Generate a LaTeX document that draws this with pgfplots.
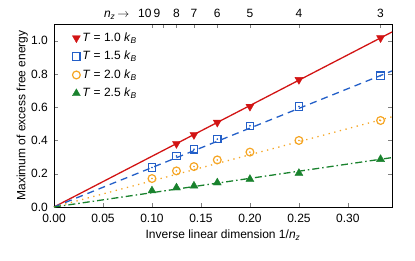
\documentclass[border=0pt]{standalone}
\usepackage{fontspec}
\setmainfont{Liberation Sans}
\usepackage{pgfplots}
\pgfplotsset{compat=1.18}
\definecolor{cred}{RGB}{210,20,20}
\definecolor{cblue}{RGB}{35,95,200}
\definecolor{corange}{RGB}{245,165,35}
\definecolor{cgreen}{RGB}{25,130,45}
\newcommand\kB{\textit{k}\textsubscript{\textit{B}}}
\newcommand\nz{\textit{n}\textsubscript{\textit{z}}}
\begin{document}
\fontsize{12bp}{14bp}\selectfont
\begin{tikzpicture}
\begin{axis}[
  name=main,
  scale only axis, width=338bp, height=183bp,
  xmin=0, xmax=0.345, ymin=0, ymax=1.1,
  xtick={0,0.05,...,0.31}, ytick={0,0.2,...,1.01},
  xtick pos=bottom, ytick pos=both,
  tick align=inside, major tick length=4bp,
  /pgf/number format/assume math mode=true,
  xticklabel style={yshift=-3bp,/pgf/number format/.cd,fixed,fixed zerofill,precision=2},
  yticklabel style={xshift=-2bp,/pgf/number format/.cd,fixed,fixed zerofill,precision=1},
  xlabel={Inverse linear dimension 1/\nz},
  ylabel={Maximum of excess free energy},
  xlabel style={yshift=1pt},
  ylabel style={yshift=-5pt},
  legend style={draw=none, fill=none, at={(0.045,0.975)}, anchor=north west, row sep=4bp,
    /tikz/every even column/.append style={column sep=2bp}},
  legend cell align=left,
  clip=false,
]
\coordinate (bl) at (rel axis cs:0,0);
\coordinate (tr) at (rel axis cs:1,1);
% fitted lines
\addplot[cred, line width=1.3pt, forget plot] coordinates {(0,0) (0.345,1.052)};
\addplot[cblue, line width=1.3pt, dash pattern=on 7bp off 5bp, forget plot] coordinates {(0,0) (0.345,0.818)};
\addplot[corange, line width=1.3pt, dash pattern=on 1.3bp off 4.5bp, forget plot] coordinates {(0,0) (0.345,0.542)};
\addplot[cgreen, line width=1.3pt, dash pattern=on 7bp off 3bp on 1.5bp off 3bp, forget plot] coordinates {(0,0) (0.345,0.297)};
% markers
\addplot[only marks, mark=triangle*, mark options={rotate=180, fill=cred, draw=cred}, mark size=4.6bp] coordinates {
 (0.125,0.380) (0.142857,0.434) (0.166667,0.508) (0.2,0.604) (0.25,0.765) (0.333333,1.016)};
\addlegendentry{\textit{T} = 1.0 \kB}
\addplot[only marks, mark=square, mark options={draw=cblue, line width=1.2pt}, mark size=3.7bp] coordinates {
 (0.1,0.237) (0.125,0.307) (0.142857,0.347) (0.166667,0.408) (0.2,0.488) (0.25,0.604) (0.333333,0.789)};
\addlegendentry{\textit{T} = 1.5 \kB}
\addplot[only marks, mark=o, mark options={draw=corange, line width=1.2pt}, mark size=3.9bp] coordinates {
 (0.1,0.171) (0.125,0.217) (0.142857,0.243) (0.166667,0.283) (0.2,0.330) (0.25,0.400) (0.333333,0.520)};
\addlegendentry{\textit{T} = 2.0 \kB}
\addplot[only marks, mark=triangle*, mark options={fill=cgreen, draw=cgreen}, mark size=4.6bp] coordinates {
 (0.1,0.098) (0.125,0.116) (0.142857,0.127) (0.166667,0.146) (0.2,0.167) (0.25,0.203) (0.333333,0.287)};
\addlegendentry{\textit{T} = 2.5 \kB}
% center dots
\addplot[only marks, mark=*, mark size=0.6bp, cblue, forget plot] coordinates {
 (0.1,0.237) (0.125,0.307) (0.142857,0.347) (0.166667,0.408) (0.2,0.488) (0.25,0.604) (0.333333,0.789)};
\addplot[only marks, mark=*, mark size=0.6bp, corange, forget plot] coordinates {
 (0.1,0.171) (0.125,0.217) (0.142857,0.243) (0.166667,0.283) (0.2,0.330) (0.25,0.400) (0.333333,0.520)};
\end{axis}
\begin{axis}[
  scale only axis, width=338bp, height=183bp,
  xmin=0, xmax=0.345, ymin=0, ymax=1.1,
  axis x line*=top, axis y line=none,
  xtick={0.1,0.111111,0.125,0.142857,0.166667,0.2,0.25,0.333333},
  xticklabels={\llap{10\kern0.5bp},\llap{9\kern2.6bp},8,7,6,5,4,3},
  extra x ticks={0.064},
  extra x tick labels={\nz\,$\rightarrow$},
  extra x tick style={major tick length=0pt},
  xticklabel style={anchor=base, yshift=6bp},
  tick align=inside, major tick length=4bp,
]
\end{axis}
\path ([shift={(-54bp,-54bp)}]bl) rectangle ([shift={(23bp,24bp)}]tr);
\end{tikzpicture}
\end{document}
